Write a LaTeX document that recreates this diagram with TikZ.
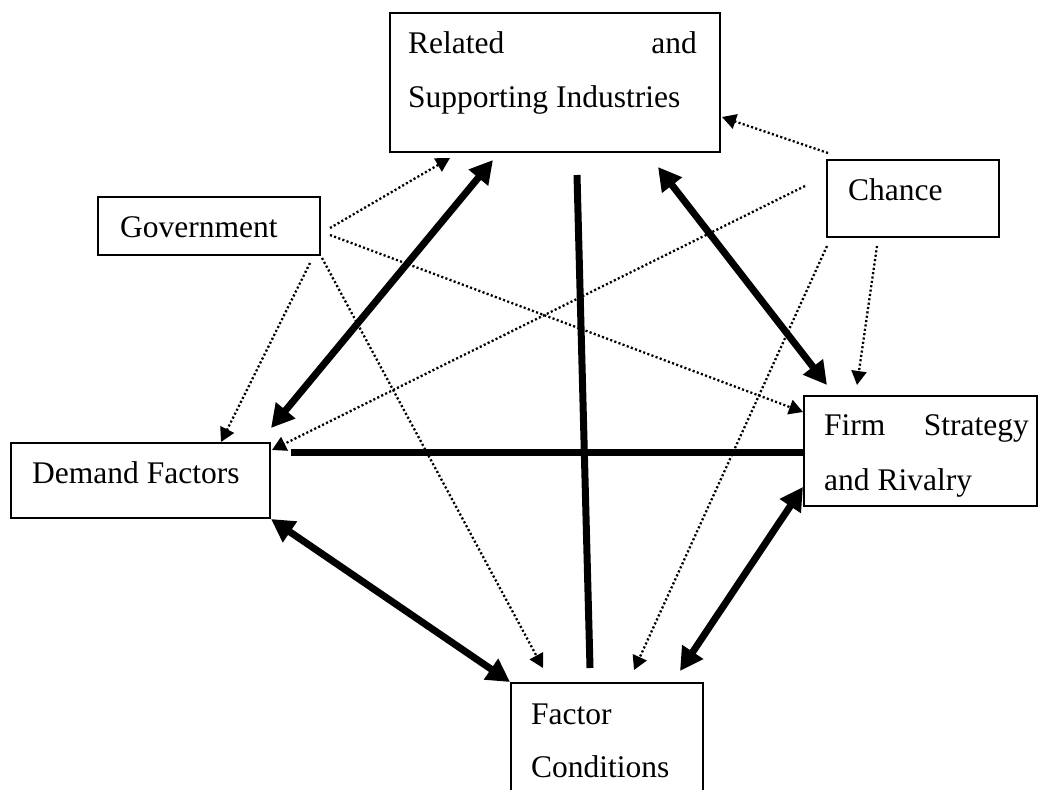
\documentclass[tikz,border=0pt]{standalone}
\usepackage{fontspec}
\setmainfont{Liberation Serif}
\usetikzlibrary{arrows.meta}
\begin{document}
\begin{tikzpicture}[x=1pt,y=-1pt,
  box/.style={draw=black,line width=2pt,rectangle,inner sep=0pt,fill=white},
  lbl/.style={inner sep=0pt,anchor=base west,font=\fontsize{31.5}{36}\selectfont},
  lblr/.style={inner sep=0pt,anchor=base east,font=\fontsize{31.5}{36}\selectfont},
  heavy/.style={line width=7pt},
  bigboth/.style={{Triangle[length=23pt,width=24pt]}-{Triangle[length=23pt,width=24pt]}},
  dotline/.style={line width=2.3pt,dash pattern=on 2.1pt off 2.3pt,-{Triangle[length=14pt,width=15pt]}}]
\useasboundingbox (0,0) rectangle (1040,789);
\clip (0,0) rectangle (1040,789);
\fill[white] (0,0) rectangle (1040,789);

% boxes
\node[box,minimum width=330pt,minimum height=139pt] (rel) at (555,82.5) {};
\node[box,minimum width=222pt,minimum height=58pt] (gov) at (209,226) {};
\node[box,minimum width=172pt,minimum height=77pt] (cha) at (913,198.5) {};
\node[box,minimum width=259pt,minimum height=75pt] (dem) at (140.5,480.5) {};
\node[box,minimum width=233pt,minimum height=110pt] (firm) at (920.5,451) {};
\node[box,minimum width=192pt,minimum height=117pt] (fac) at (607,741.5) {};

% texts
\node[lbl] (relA) at (408,54) {Related};
\node[lblr] (relB) at (697,54) {and};
\node[lbl] (relC) at (408,108) {Supporting Industries};
\node[lbl] (govT) at (120,237) {Government};
\node[lbl] (chaT) at (848,200.5) {Chance};
\node[lbl] (demT) at (32,483) {Demand Factors};
\node[lbl] (firmA) at (824,435) {Firm};
\node[lblr] (firmB) at (1029,435) {Strategy};
\node[lbl] (firmC) at (824,490) {and Rivalry};
\node[lbl] (facA) at (531,724) {Factor};
\node[lbl] (facB) at (531,777) {Conditions};

% connector end points
\coordinate (demNE) at (271,428);
\coordinate (relSW) at (493,160);
\coordinate (relSE) at (658,167);
\coordinate (firmN) at (827,385);
\coordinate (relS) at (577,175);
\coordinate (facN) at (590,668);
\coordinate (demE) at (291,452);
\coordinate (firmW) at (804,452);
\coordinate (firmSW) at (803,487);
\coordinate (facNE) at (680,671);

\coordinate (govE1) at (330,228);
\coordinate (govE2) at (330,235);
\coordinate (govS1) at (310,263);
\coordinate (govS2) at (322,258);
\coordinate (relG) at (450,158);
\coordinate (firmG) at (803,412);
\coordinate (demG) at (221,442);
\coordinate (facG) at (543,668);

\coordinate (chaW1) at (828,153);
\coordinate (chaW2) at (805,186);
\coordinate (chaS1) at (827,246);
\coordinate (chaS2) at (877,246);
\coordinate (relC2) at (722,117);
\coordinate (demC) at (272,450);
\coordinate (facC) at (634,670);
\coordinate (firmC2) at (857,385);

% heavy connectors
\draw[heavy,bigboth] (demNE) -- (relSW);
\draw[heavy,bigboth] (relSE) -- (firmN);
\draw[heavy] (relS) -- (facN);
\draw[heavy] (demE) -- (firmW);
\draw[heavy,bigboth] (dem.south east) -- (fac.north west);
\draw[heavy,bigboth] (firmSW) -- (facNE);

% dotted connectors
\draw[dotline] (govE1) -- (relG);
\draw[dotline] (govE2) -- (firmG);
\draw[dotline] (govS1) -- (demG);
\draw[dotline] (govS2) -- (facG);
\draw[dotline] (chaW1) -- (relC2);
\draw[dotline] (chaW2) -- (demC);
\draw[dotline] (chaS1) -- (facC);
\draw[dotline] (chaS2) -- (firmC2);
\end{tikzpicture}
\end{document}
